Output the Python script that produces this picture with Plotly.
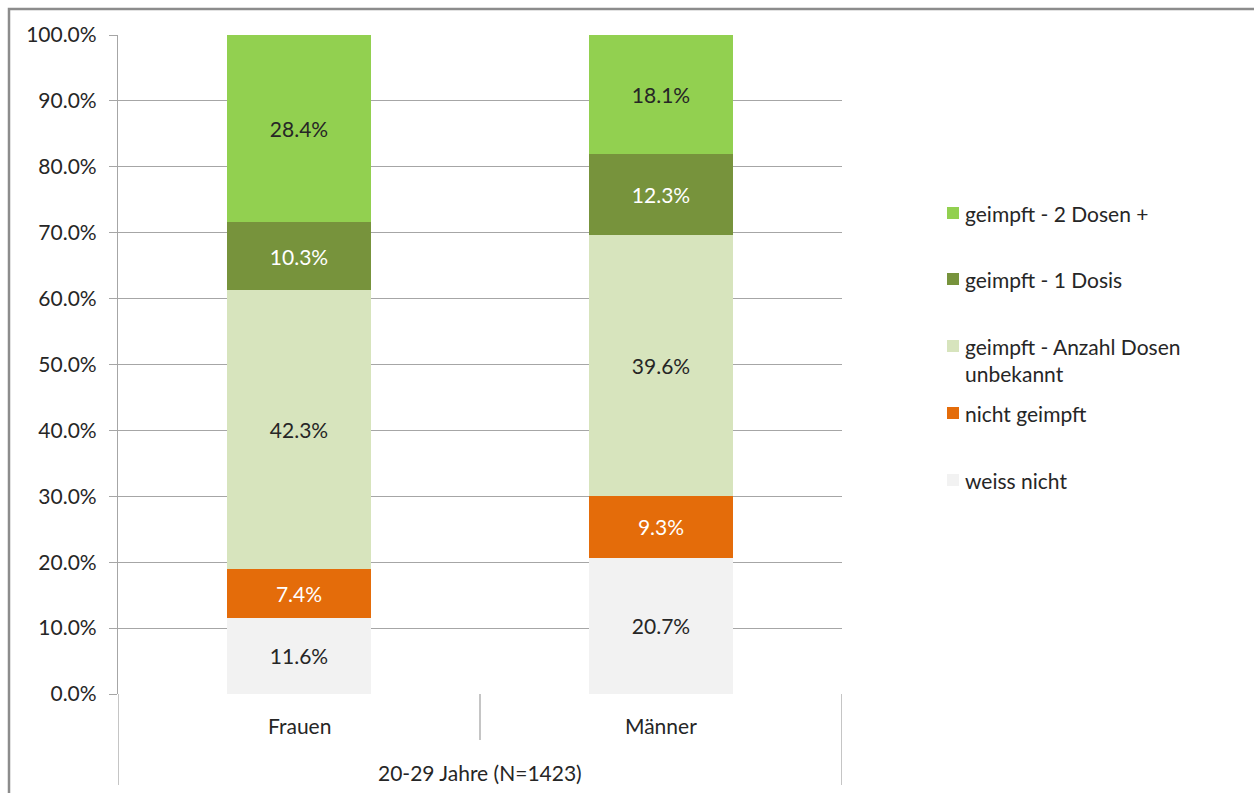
import plotly.graph_objects as go

# ---- data ----
categories = ["Frauen", "Männer"]
group_label = "20-29 Jahre (N=1423)"
series_names = [
    "weiss nicht",
    "nicht geimpft",
    "geimpft - Anzahl Dosen unbekannt",
    "geimpft - 1 Dosis",
    "geimpft - 2 Dosen +",
]
weiss_nicht = [11.6, 20.7]
nicht_geimpft = [7.4, 9.3]
anzahl_unbekannt = [42.3, 39.6]
eine_dosis = [10.3, 12.3]
zwei_dosen = [28.4, 18.1]
series_values = [weiss_nicht, nicht_geimpft, anzahl_unbekannt, eine_dosis, zwei_dosen]
legend_labels = [
    "weiss nicht",
    "nicht geimpft",
    "geimpft - Anzahl Dosen<br>unbekannt",
    "geimpft - 1 Dosis",
    "geimpft - 2 Dosen +",
]
y_ticks = [0, 10, 20, 30, 40, 50, 60, 70, 80, 90, 100]

# ---- styles ----
colors = ["#F2F2F2", "#E46C0A", "#D7E4BD", "#77933C", "#92D050"]
text_colors = ["#262626", "#FFFFFF", "#262626", "#FFFFFF", "#262626"]
FONT = "Lato, 'Open Sans', sans-serif"
FS = 21
W, H = 1254, 793
L, R, T, B = 118, 842, 35, 694  # plot area in pixels

def px_x(p):
    return (p - L) / (R - L)

def px_y(p):
    return (B - p) / (B - T)

x_pos = list(range(len(categories)))

fig = go.Figure()
for name, vals, col, tcol in zip(series_names, series_values, colors, text_colors):
    fig.add_trace(go.Bar(
        x=x_pos, y=vals, name=name,
        marker=dict(color=col, line=dict(width=0)),
        width=0.4,
        text=[f"{v:.1f}%" for v in vals],
        textposition="inside",
        insidetextanchor="middle",
        textangle=0,
        constraintext="none",
        textfont=dict(color=tcol, size=FS, family=FONT),
        showlegend=False,
        hoverinfo="skip",
    ))

grid_col = "#A6A6A6"
shapes = []
# category separators below the plot
for xv, ybot in [(-0.5, 785), (0.5, 740), (1.5, 785)]:
    shapes.append(dict(type="line", xref="x", yref="paper", x0=xv, x1=xv,
                       y0=px_y(694), y1=px_y(ybot), line=dict(color=grid_col, width=1.3)))
# outer chart border (cut off at right/bottom)
shapes.append(dict(type="rect", xref="paper", yref="paper",
                   x0=px_x(9), x1=px_x(1270), y0=px_y(9), y1=px_y(810),
                   line=dict(color="#8C8C8C", width=2.5), fillcolor="rgba(0,0,0,0)"))

annotations = []
for xv, c in zip(x_pos, categories):
    annotations.append(dict(x=xv, y=px_y(725), xref="x", yref="paper", text=c,
                            showarrow=False, yanchor="middle",
                            font=dict(size=FS, color="#262626", family=FONT)))
annotations.append(dict(x=0.5, y=px_y(772), xref="x", yref="paper", text=group_label,
                        showarrow=False, yanchor="middle",
                        font=dict(size=FS, color="#262626", family=FONT)))

# legend (top to bottom: reverse stacking order)
legend_y = [213, 279, 346, 413, 480]
for (lab, col), yy in zip(list(zip(legend_labels, colors))[::-1], legend_y):
    shapes.append(dict(type="rect", xref="paper", yref="paper",
                       x0=px_x(947), x1=px_x(959), y0=px_y(yy + 6), y1=px_y(yy - 6),
                       fillcolor=col, line=dict(width=0)))
    annotations.append(dict(x=px_x(963), y=px_y(yy - 14), xref="paper", yref="paper",
                            text=lab, showarrow=False, xanchor="left", yanchor="top",
                            align="left",
                            font=dict(size=FS, color="#262626", family=FONT)))

fig.update_layout(
    width=W, height=H,
    margin=dict(l=L, r=W - R, t=T, b=H - B, pad=0),
    paper_bgcolor="white", plot_bgcolor="white",
    barmode="stack",
    bargap=0.6,
    font=dict(family=FONT, size=FS, color="#262626"),
    shapes=shapes,
    annotations=annotations,
    xaxis=dict(range=[-0.5, 1.5], tickvals=x_pos, ticktext=["", ""], showgrid=False,
               zeroline=False, showline=False, ticks="", fixedrange=True),
    yaxis=dict(range=[0, 100], tickvals=y_ticks,
               ticktext=[f"{v:.1f}%" for v in y_ticks],
               showgrid=True, gridcolor=grid_col, gridwidth=1.3,
               zeroline=False, showline=True, linecolor=grid_col, linewidth=1.3,
               ticks="outside", ticklen=8, tickcolor=grid_col, tickwidth=1.3,
               ticklabelstandoff=8,
               tickfont=dict(size=FS, color="#262626", family=FONT)),
)

fig.write_html("out.html", config={"displayModeBar": False},
               post_script="document.body.style.margin='0';document.body.style.overflow='hidden';")
